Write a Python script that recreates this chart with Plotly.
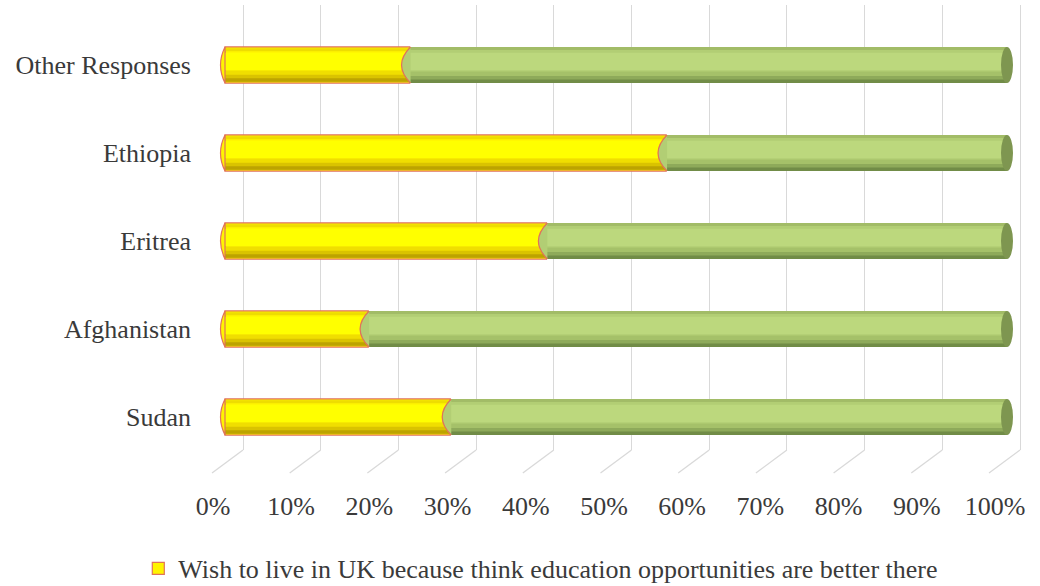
import plotly.graph_objects as go

# ---- data ----
categories = ["Sudan", "Afghanistan", "Eritrea", "Ethiopia", "Other Responses"]
wish_uk_education = [28.8, 18.3, 41.1, 56.4, 23.6]
other_share = [71.2, 81.7, 58.9, 43.6, 76.4]
tick_values = [0, 10, 20, 30, 40, 50, 60, 70, 80, 90, 100]
tick_labels = ["0%", "10%", "20%", "30%", "40%", "50%", "60%", "70%", "80%", "90%", "100%"]
legend_name = "Wish to live in UK because think education opportunities are better there"

FONT = "Liberation Serif"
TXT = "#3a3a3a"
SALMON = "#E0735A"
BW = 0.41
PX = 1 / 88.0

fig = go.Figure()


def layer(x, base, color, offset, width, name="", showlegend=False, line=None):
    fig.add_trace(go.Bar(
        y=categories, x=x, base=base, orientation="h",
        xaxis="x2", yaxis="y",
        marker=dict(color=color, line=line or dict(width=0)),
        offset=offset, width=width, name=name, showlegend=showlegend,
        hoverinfo="skip",
    ))


zero_base = [0] * len(categories)
h = BW / 2
inset = 1.2 * PX

# yellow cylinder
layer(wish_uk_education, zero_base, "#FFF400", -h, BW, legend_name, True,
      dict(color=SALMON, width=1.2))
layer(wish_uk_education, zero_base, "#FFFF00", -0.06, 0.2)
layer(wish_uk_education, zero_base, "#F0DE00", -h + inset, 0.13)
layer(wish_uk_education, zero_base, "#DAC300", -h + inset, 0.08)
layer(wish_uk_education, zero_base, "#BDA300", -h + inset, 0.04)
layer(wish_uk_education, zero_base, "#EEDD00", h - inset - 0.035, 0.035)

# green cylinder
layer(other_share, wish_uk_education, "#B2CE74", -h, BW)
layer(other_share, wish_uk_education, "#BCD87D", -0.06, 0.2)
layer(other_share, wish_uk_education, "#A5C169", -h, 0.13)
layer(other_share, wish_uk_education, "#8EAA5A", -h, 0.08)
layer(other_share, wish_uk_education, "#718C47", -h, 0.04)
layer(other_share, wish_uk_education, "#A2BC67", h - 0.035, 0.035)

# invisible carrier so the tick-label axis is drawn
fig.add_trace(go.Scatter(x=[tick_values[0], tick_values[-1]], y=[categories[0], categories[0]],
                         xaxis="x3", yaxis="y", mode="markers", marker=dict(opacity=0),
                         showlegend=False, hoverinfo="skip"))

shapes = []
for cat, yv, gv in zip(categories, wish_uk_education, other_share):
    # left end cap of yellow
    shapes.append(dict(type="path", xref="x2", yref="y", xsizemode="pixel", ysizemode="pixel",
                       xanchor=0, yanchor=cat, path="M 0,18 Q -9,0 0,-18 Z",
                       fillcolor="#FFF400", line=dict(color=SALMON, width=1.2), layer="above"))
    # green start cap over yellow end
    shapes.append(dict(type="path", xref="x2", yref="y", xsizemode="pixel", ysizemode="pixel",
                       xanchor=yv, yanchor=cat, path="M 1,18 Q -17,0 1,-18 Z",
                       fillcolor="#B2CE74", line=dict(width=0), layer="above"))
    shapes.append(dict(type="path", xref="x2", yref="y", xsizemode="pixel", ysizemode="pixel",
                       xanchor=yv, yanchor=cat, path="M 1,18 Q -17,0 1,-18",
                       line=dict(color=SALMON, width=1.2), layer="above"))
    # right end cap
    shapes.append(dict(type="circle", xref="x2", yref="y", xsizemode="pixel", ysizemode="pixel",
                       xanchor=yv + gv, yanchor=cat, x0=-6, x1=6, y0=-18, y1=18,
                       fillcolor="#7E9650", line=dict(width=0), layer="above"))

# floor diagonals of the 3-D gridlines
for t in tick_values:
    shapes.append(dict(type="line", xref="x", yref="paper", xsizemode="pixel", ysizemode="pixel",
                       xanchor=t, yanchor=0, x0=0, x1=-31, y0=0, y1=-23,
                       line=dict(color="#D9D9D9", width=1.3), layer="below"))

fig.update_layout(
    width=1040, height=586,
    margin=dict(l=200, r=10, t=5, b=136, autoexpand=False),
    paper_bgcolor="white", plot_bgcolor="white",
    barmode="overlay",
    font=dict(family=FONT, color=TXT, size=26),
    shapes=shapes,
    xaxis=dict(range=[-5.534, 101.287], tickvals=tick_values, showticklabels=False,
               showgrid=True, gridcolor="#D9D9D9", gridwidth=1.3, zeroline=False,
               showline=False, ticks="", automargin=False),
    xaxis2=dict(range=[-3.197, 102.941], overlaying="x", anchor="y", visible=False),
    xaxis3=dict(range=[-1.662, 104.476], overlaying="x", anchor="y", side="bottom",
                tickvals=tick_values, ticktext=tick_labels, showgrid=False, zeroline=False,
                showline=False, ticks="", ticklabelstandoff=38, automargin=False,
                tickfont=dict(family=FONT, size=26, color=TXT)),
    yaxis=dict(type="category", categoryorder="array", categoryarray=categories,
               range=[-0.375, 4.682], showgrid=False, zeroline=False, showline=False,
               ticks="", ticklabelstandoff=8, automargin=False,
               tickfont=dict(family=FONT, size=26, color=TXT)),
    legend=dict(orientation="h", xref="container", yref="container",
                x=0.52, xanchor="center", y=0.03, yanchor="middle",
                font=dict(family=FONT, size=26, color=TXT), itemclick=False),
)

fig.write_html("out.html", config={"displayModeBar": False},
               post_script="document.body.style.margin='0px';")
